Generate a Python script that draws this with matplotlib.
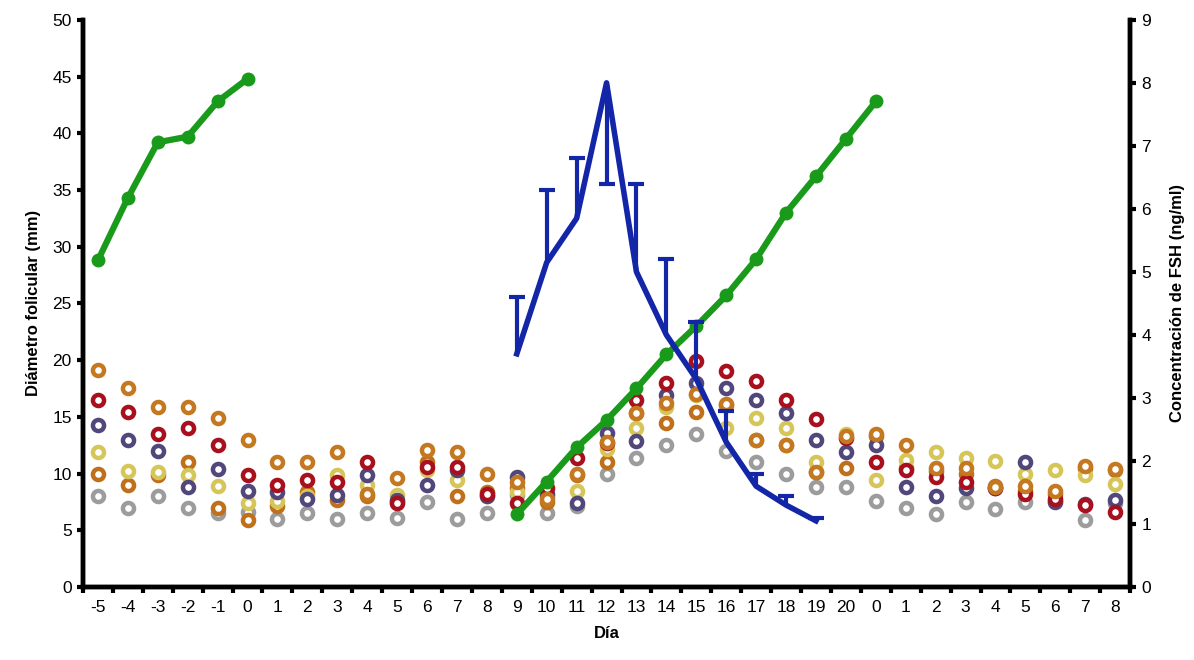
import numpy as np
import matplotlib
matplotlib.use("Agg")
import matplotlib.pyplot as plt
from matplotlib.ticker import FixedLocator, MultipleLocator

plt.rcParams['font.family'] = ['Liberation Sans', 'DejaVu Sans']

nan = np.nan

day_labels = ["-5", "-4", "-3", "-2", "-1", "0",
              "1", "2", "3", "4", "5", "6", "7", "8", "9", "10",
              "11", "12", "13", "14", "15", "16", "17", "18", "19", "20",
              "0", "1", "2", "3", "4", "5", "6", "7", "8"]

# Individual follicle diameters (mm), six series
foll_orange1 = [19.1, 17.5, 15.9, 15.9, 14.9, 13.0, 11.0, 11.0, 11.9, 8.2, 9.6, 12.1,
                11.9, 10.0, 9.3, 7.8, 10.0, 12.8, 15.3, 16.2, 17.0, 16.1, 13.0, 12.5,
                10.1, 13.3, 13.5, 12.5, 10.5, 10.5, 8.8, 8.9, 8.5, 10.7, 10.4]
foll_red = [16.5, 15.4, 13.5, 14.0, 12.5, 9.9, 9.0, 9.4, 9.3, 11.0, 7.4, 10.6,
            10.6, 8.2, 7.4, 8.7, 11.4, 12.7, 16.5, 18.0, 19.9, 19.0, 18.2, 16.5,
            14.8, 13.1, 11.0, 10.3, 9.7, 9.3, 8.7, 8.2, 7.8, 7.2, 6.6]
foll_purple = [14.3, 13.0, 12.0, 8.8, 10.4, 8.5, 8.4, 7.8, 8.1, 9.9, 7.7, 9.0,
               10.3, 8.0, 9.7, 8.2, 7.4, 13.6, 12.9, 16.9, 18.0, 17.5, 16.5, 15.3,
               13.0, 11.9, 12.5, 8.8, 8.0, 8.7, 8.7, 11.0, 7.5, 7.3, 7.7]
foll_yellow = [11.9, 10.2, 10.1, 9.9, 8.9, 7.4, 7.6, 8.0, 9.9, 9.0, 8.1, 10.3,
               9.4, 8.0, 8.4, 8.0, 8.5, 12.2, 14.0, 15.9, 16.9, 14.0, 14.9, 14.0,
               11.0, 13.5, 9.4, 11.2, 11.9, 11.4, 11.1, 10.0, 10.3, 9.9, 9.1]
foll_orange2 = [10.0, 9.0, 9.9, 11.0, 7.0, 5.9, 7.1, 8.4, 7.7, 8.0, 7.5, 11.0,
                8.0, 8.4, 8.7, 7.5, 9.9, 11.0, 15.3, 14.5, 15.4, 16.0, 13.0, 12.5,
                10.1, 10.5, 13.3, 10.5, 10.2, 10.0, 8.9, 8.5, 8.2, 10.5, 10.3]
foll_gray = [8.0, 7.0, 8.0, 7.0, 6.5, 6.6, 6.0, 6.5, 6.0, 6.5, 6.1, 7.5,
             6.0, 6.5, 8.1, 6.5, 7.1, 10.0, 11.4, 12.5, 13.5, 12.0, 11.0, 10.0,
             8.8, 8.8, 7.6, 7.0, 6.4, 7.5, 6.9, 7.5, 7.6, 5.9, 7.4]

# Dominant follicle diameter (mm)
dominant = [28.8, 34.3, 39.2, 39.7, 42.8, 44.8,
            nan, nan, nan, nan, nan, nan, nan, nan,
            6.4, 9.3, 12.3, 14.7, 17.5, 20.5, 23.0, 25.7, 28.9, 33.0, 36.2, 39.5,
            42.8, nan, nan, nan, nan, nan, nan, nan, nan]

# FSH concentration (ng/ml) with error bars
fsh = [nan] * 14 + [3.7, 5.15, 5.85, 8.0, 5.0, 4.0, 3.3, 2.3, 1.6, 1.3, 1.05] + [nan] * 10
fsh_err_up = [0] * 14 + [0.9, 1.15, 0.95, 0.0, 1.4, 1.2, 0.9, 0.5, 0.2, 0.15, 0.05] + [0] * 10
fsh_err_low = [0] * 14 + [0, 0, 0, 1.6, 0, 0, 0, 0, 0, 0, 0] + [0] * 10

series = [
    (foll_orange1, "#c47820"),
    (foll_red, "#a8101e"),
    (foll_purple, "#51477a"),
    (foll_yellow, "#d6c65a"),
    (foll_orange2, "#c0701a"),
    (foll_gray, "#9c9c9c"),
]

fig = plt.figure(figsize=(11.94, 6.60), dpi=100)
ax = fig.add_axes([0.0695, 0.1106, 0.8770, 0.8594])
ax2 = ax.twinx()

x = np.arange(len(day_labels))

for vals, col in reversed(series):
    ax.plot(x, vals, linestyle='none', marker='o', markersize=8,
            markerfacecolor='white', markeredgecolor=col, markeredgewidth=3.2,
            zorder=3)

ax.plot(x, dominant, color='#1a9a1a', linewidth=4.5, marker='o',
        markersize=9, markerfacecolor='#1a9a1a', markeredgecolor='#1a9a1a',
        zorder=5, solid_capstyle='round')

fsh_a = np.array(fsh, dtype=float)
up = np.array(fsh_err_up, dtype=float)
low = np.array(fsh_err_low, dtype=float)
blue = '#1426a8'
ax2.plot(x, fsh_a, color=blue, linewidth=4, zorder=6, solid_joinstyle='round')
valid = ~np.isnan(fsh_a)
ax2.vlines(x[valid], (fsh_a - low)[valid], (fsh_a + up)[valid], color=blue,
           linewidth=3, zorder=6)
mu = valid & (up > 0)
ax2.plot(x[mu], (fsh_a + up)[mu], linestyle='none', marker='_', markersize=12,
         markeredgewidth=3, color=blue, zorder=6)
ml = valid & (low > 0)
ax2.plot(x[ml], (fsh_a - low)[ml], linestyle='none', marker='_', markersize=12,
         markeredgewidth=3, color=blue, zorder=6)

ax.set_xlim(-0.5, len(day_labels) - 0.5)
ax.set_ylim(0, 50)
ax2.set_ylim(0, 9)

ax.xaxis.set_major_locator(FixedLocator(x))
ax.set_xticklabels(day_labels)
ax.xaxis.set_minor_locator(FixedLocator(np.arange(-0.5, len(day_labels), 1.0)))
ax.tick_params(axis='x', which='major', length=0, pad=9, labelsize=12.5)
ax.tick_params(axis='x', which='minor', length=4, width=3, direction='out')

ax.yaxis.set_major_locator(MultipleLocator(5))
ax.tick_params(axis='y', which='major', length=4, width=3, direction='out',
               labelsize=12.5, pad=4)
ax2.yaxis.set_major_locator(MultipleLocator(1))
ax2.tick_params(axis='y', which='major', length=4, width=3, direction='out',
                labelsize=12.5, pad=4)

for a in (ax, ax2):
    for side in ('left', 'right', 'bottom'):
        a.spines[side].set_linewidth(3.2)
        a.spines[side].set_color('black')
    a.spines['top'].set_visible(False)

ax.set_ylabel("Diámetro folicular (mm)", fontsize=12, fontweight='bold', labelpad=8)
ax2.set_ylabel("Concentración de FSH (ng/ml)", fontsize=12, fontweight='bold',
               rotation=90, labelpad=14)
ax.set_xlabel("Día", fontsize=12, fontweight='bold', labelpad=8)

fig.savefig("out.png", dpi=100, facecolor='white')
